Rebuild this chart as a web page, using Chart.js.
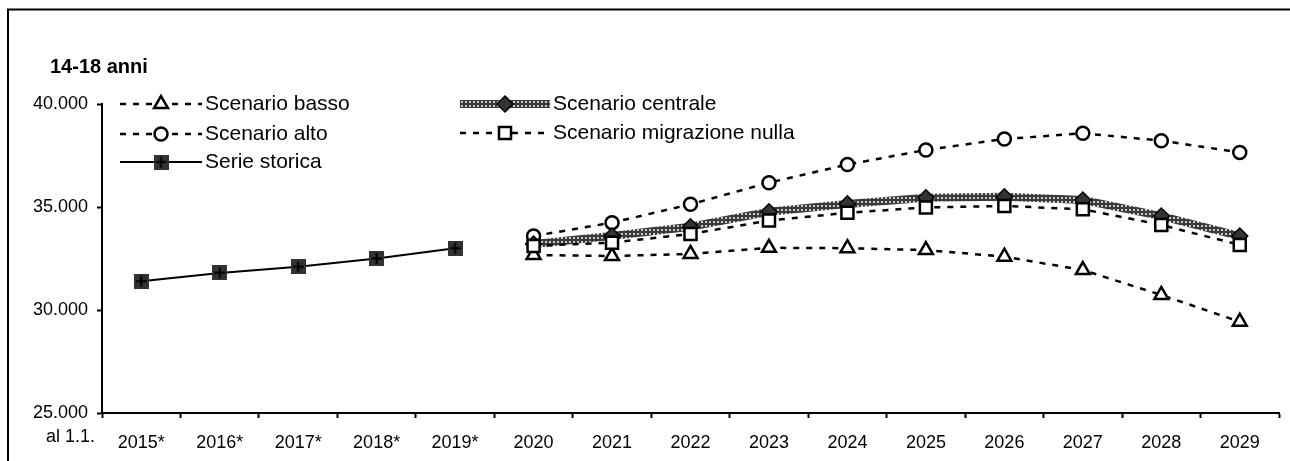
<!DOCTYPE html>
<html>
<head>
<meta charset="utf-8">
<script src="https://cdn.jsdelivr.net/npm/chart.js@4.4.1/dist/chart.umd.min.js"></script>
<style>
  html, body { margin: 0; padding: 0; background: #ffffff; }
</style>
</head>
<body>
<canvas id="chart" width="1290" height="461"></canvas>
<script>
const FONT = "'Liberation Sans', Arial, sans-serif";

const years = ["2015*", "2016*", "2017*", "2018*", "2019*", "2020", "2021", "2022",
    "2023", "2024", "2025", "2026", "2027", "2028", "2029"];

const serieStorica = [31400, 31800, 32100, 32500, 33000,
    null, null, null, null, null, null, null, null, null, null];
const scenarioBasso = [null, null, null, null, null,
    32670, 32620, 32720, 33020, 33000, 32910, 32590, 31940, 30730, 29430];
const scenarioAlto = [null, null, null, null, null,
    33590, 34240, 35130, 36180, 37060, 37770, 38300, 38580, 38220, 37650];
const scenarioCentrale = [null, null, null, null, null,
    33200, 33590, 34040, 34770, 35150, 35450, 35500, 35340, 34560, 33590];
const scenarioNulla = [null, null, null, null, null,
    33110, 33270, 33690, 34340, 34720, 34980, 35050, 34890, 34130, 33160];

const yTicks = [25000, 30000, 35000, 40000];

// checkered grey band used by "Scenario centrale"
function makeBandPattern() {
    let c = document.createElement("canvas");
    c.width = 4;
    c.height = 4;
    let g = c.getContext("2d");
    g.fillStyle = "#3a3a3a";
    g.fillRect(0, 0, 4, 4);
    g.fillStyle = "#c8c8c8";
    g.fillRect(1, 1, 2, 2);
    return g.createPattern(c, "repeat");
}

// dark square with a black cross, marker of the historical series
function makeCrossSquare() {
    let c = document.createElement("canvas");
    c.width = 15;
    c.height = 15;
    let g = c.getContext("2d");
    g.fillStyle = "#333333";
    g.fillRect(0, 0, 15, 15);
    g.strokeStyle = "#000000";
    g.lineWidth = 2;
    g.beginPath();
    g.moveTo(7.5, 2); g.lineTo(7.5, 13);
    g.moveTo(2, 7.5); g.lineTo(13, 7.5);
    g.stroke();
    return c;
}

const bandPattern = makeBandPattern();
const crossSquare = makeCrossSquare();

function formatThousands(v) {
    return String(v).replace(/\B(?=(\d{3})+(?!\d))/g, ".");
}

const dash = [6, 7];

const datasets = [
    {
        label: "Scenario migrazione nulla", data: scenarioNulla, order: 1,
        borderColor: "#000", borderWidth: 2.5, borderDash: dash,
        pointStyle: "rect", pointRadius: 8.5, pointBorderWidth: 2.5,
        pointBackgroundColor: "#fff", pointBorderColor: "#000"
    },
    {
        label: "Scenario centrale", data: scenarioCentrale, order: 2,
        borderColor: bandPattern, borderWidth: 8,
        pointStyle: "rectRot", pointRadius: 8, pointBorderWidth: 1.5,
        pointBackgroundColor: "#333333", pointBorderColor: "#000"
    },
    {
        label: "Scenario basso", data: scenarioBasso, order: 3,
        borderColor: "#000", borderWidth: 2.5, borderDash: dash,
        pointStyle: "triangle", pointRadius: 8, pointBorderWidth: 2.5,
        pointBackgroundColor: "#fff", pointBorderColor: "#000"
    },
    {
        label: "Scenario alto", data: scenarioAlto, order: 4,
        borderColor: "#000", borderWidth: 2.5, borderDash: dash,
        pointStyle: "circle", pointRadius: 6.5, pointBorderWidth: 2.5,
        pointBackgroundColor: "#fff", pointBorderColor: "#000"
    },
    {
        label: "Serie storica", data: serieStorica, order: 5,
        borderColor: "#000", borderWidth: 2,
        pointStyle: crossSquare, pointRadius: 7.5
    }
];

// legend entries: dataset label, x of the sample line start, row y
const legendLayout = [
    ["Scenario basso", 120, 104],
    ["Scenario alto", 120, 134],
    ["Serie storica", 120, 162],
    ["Scenario centrale", 460, 104],
    ["Scenario migrazione nulla", 460, 133]
];

const framePlugin = {
    id: "frame",
    beforeDraw(chart) {
        let ctx = chart.ctx;
        ctx.save();
        ctx.fillStyle = "#fff";
        ctx.fillRect(0, 0, chart.width, chart.height);
        ctx.strokeStyle = "#000";
        ctx.lineWidth = 2;
        ctx.strokeRect(8, 9.5, 1400, 600);
        ctx.restore();
    },
    afterDraw(chart) {
        let ctx = chart.ctx;
        ctx.save();
        ctx.fillStyle = "#000";
        ctx.textBaseline = "middle";
        ctx.font = "bold 20px " + FONT;
        ctx.textAlign = "left";
        ctx.fillText("14-18 anni", 50, 67);
        ctx.font = "18px " + FONT;
        ctx.textAlign = "right";
        ctx.fillText("al 1.1.", 95, 437);

        // custom two-column legend
        ctx.font = "21px " + FONT;
        ctx.textAlign = "left";
        legendLayout.forEach(([label, x0, y]) => {
            let ds = chart.data.datasets.find(d => d.label === label);
            let len = label === "Scenario centrale" || label === "Scenario migrazione nulla" ? 90 : 82;
            ctx.save();
            ctx.strokeStyle = ds.borderColor;
            ctx.lineWidth = ds.borderWidth;
            ctx.setLineDash(ds.borderDash || []);
            ctx.beginPath();
            ctx.moveTo(x0, y);
            ctx.lineTo(x0 + len, y);
            ctx.stroke();
            ctx.setLineDash([]);
            ctx.fillStyle = ds.pointBackgroundColor || "#333";
            ctx.strokeStyle = ds.pointBorderColor || "#000";
            ctx.lineWidth = ds.pointBorderWidth || 0;
            Chart.helpers.drawPoint(ctx, {
                pointStyle: ds.pointStyle,
                radius: ds.pointRadius,
                rotation: 0,
                borderWidth: ds.pointBorderWidth || 0
            }, x0 + len / 2, y);
            ctx.restore();
            ctx.fillStyle = "#000";
            ctx.fillText(label, x0 + len + 3, y);
        });
        ctx.restore();
    }
};

new Chart(document.getElementById("chart"), {
    type: "line",
    data: {
        labels: years,
        datasets: datasets
    },
    options: {
        responsive: false,
        devicePixelRatio: 1,
        animation: false,
        events: [],
        spanGaps: false,
        layout: {
            padding: { left: 0, right: 9, top: 104, bottom: 0 }
        },
        plugins: {
            legend: { display: false },
            tooltip: { enabled: false },
            title: { display: false }
        },
        scales: {
            x: {
                offset: true,
                grid: {
                    display: true,
                    drawOnChartArea: false,
                    offset: true,
                    tickLength: 5,
                    tickWidth: 2,
                    tickColor: "#000"
                },
                border: { color: "#000", width: 2 },
                ticks: {
                    color: "#000",
                    font: { family: FONT, size: 18 },
                    padding: 14,
                    maxRotation: 0,
                    autoSkip: false
                },
                afterFit(scale) {
                    scale.height = 48;
                }
            },
            y: {
                min: 25000,
                max: 40000,
                afterBuildTicks(scale) {
                    scale.ticks = yTicks.map(v => ({ value: v }));
                },
                grid: {
                    drawOnChartArea: false,
                    tickLength: 5,
                    tickWidth: 2,
                    tickColor: "#000"
                },
                border: { color: "#000", width: 2 },
                ticks: {
                    color: "#000",
                    font: { family: FONT, size: 18 },
                    padding: 9,
                    callback: v => formatThousands(v)
                },
                afterFit(scale) {
                    scale.width = 102;
                }
            }
        }
    },
    plugins: [framePlugin]
});
</script>
</body>
</html>
